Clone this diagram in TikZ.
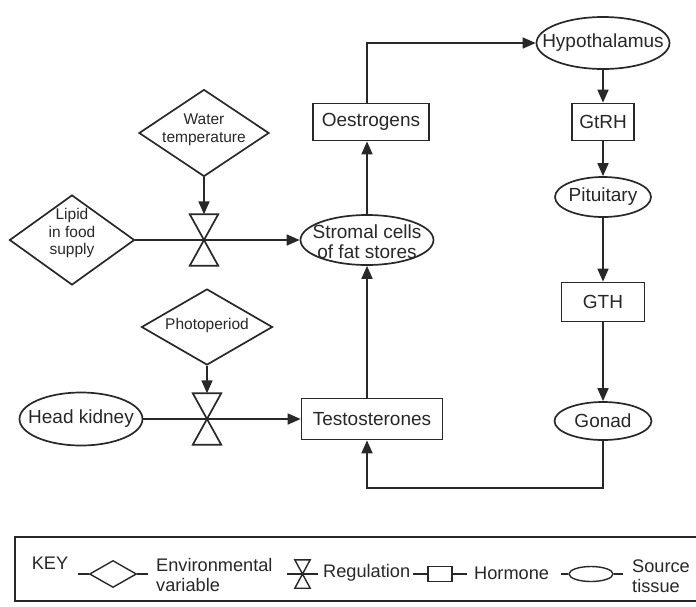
\documentclass[tikz,border=0pt]{standalone}
\usepackage{fontspec}
\setmainfont{Liberation Sans}
\usetikzlibrary{shapes.geometric,arrows.meta}
\definecolor{ink}{RGB}{40,40,40}
\begin{document}
\begin{tikzpicture}[x=1pt,y=-1pt,
  line/.style={draw=ink,line width=1.7pt},
  arr/.style={line,-{Triangle[length=13pt,width=11pt]}},
  envvar/.style={draw=ink,line width=1.7pt,diamond,inner sep=0pt},
  hormone/.style={draw=ink,line width=1.7pt,rectangle,inner sep=2pt,text=ink,font=\fontsize{19}{21}\selectfont},
  source/.style={draw=ink,line width=1.7pt,ellipse,inner sep=0pt},
  valvebox/.style={rectangle,inner sep=0pt,minimum width=28pt,minimum height=51pt},
  valveline/.style={draw=ink,line width=1.7pt,line join=miter},
  mtxt/.style={text=ink,inner sep=0pt,align=center,font=\fontsize{19}{20}\selectfont},
  dtxt/.style={text=ink,inner sep=0pt,align=center,font=\fontsize{15.5}{17.5}\selectfont},
  ktxt/.style={text=ink,inner sep=0pt,align=left,font=\fontsize{18.2}{20}\selectfont},
]
\useasboundingbox[fill=white] (0,0) rectangle (696,606);

% ---------- environmental variables ----------
\node[envvar,minimum width=130pt,minimum height=87pt] (water) at (204,133) {};
\node[dtxt] (waterT) at (204,130) {Water\\temperature};
\node[envvar,minimum width=125pt,minimum height=90pt] (lipid) at (72,240) {};
\node[dtxt] (lipidT) at (72,233) {Lipid\\in food\\supply};
\node[envvar,minimum width=131pt,minimum height=76pt] (photo) at (207,327) {};
\node[dtxt] (photoT) at (207,325) {Photoperiod};

% ---------- regulation valves ----------
\node[valvebox] (v1) at (204,240) {};
\draw[valveline] (v1.north west) -- (v1.north east) -- (v1.south west) -- (v1.south east) -- cycle;
\node[valvebox] (v2) at (207,419) {};
\draw[valveline] (v2.north west) -- (v2.north east) -- (v2.south west) -- (v2.south east) -- cycle;

% ---------- tissues and hormones ----------
\node[source,minimum width=123pt,minimum height=53pt] (headk) at (81,419) {};
\node[mtxt] (headkT) at (headk) {Head kidney};
\node[source,minimum width=133pt,minimum height=50pt] (stromal) at (367,240) {};
\node[mtxt] (stromalT) at (367,242) {Stromal cells\\of fat stores};
\node[hormone,minimum width=116pt,minimum height=37pt] (oes) at (371,122) {Oestrogens};
\node[hormone,minimum width=141pt,minimum height=41pt] (test) at (372,419) {Testosterones};

\node[source,minimum width=133pt,minimum height=52pt] (hyp) at (603,43) {};
\node[mtxt] (hypT) at (hyp) {Hypothalamus};
\node[hormone,minimum width=62pt,minimum height=37pt] (gtrh) at (603,122) {GtRH};
\node[source,minimum width=96pt,minimum height=40pt] (pit) at (603,197) {};
\node[mtxt] (pitT) at (pit) {Pituitary};
\node[hormone,minimum width=83pt,minimum height=39pt] (gth) at (603,302) {GTH};
\node[source,minimum width=97pt,minimum height=38pt] (gonad) at (603,421) {};
\node[mtxt] (gonadT) at (gonad) {Gonad};

% ---------- connectors ----------
\draw[arr] (water.south) -- (v1.north);
\draw[arr] (photo.south) -- (v2.north);
\draw[arr] (lipid.east) -- (stromal.west);
\draw[arr] (headk.east) -- (test.west);
\draw[arr] (test.north -| stromal) -- (stromal.south);
\draw[arr] (stromal.north) -- (oes.south -| stromal);
\draw[arr] (oes.north -| stromal) |- (hyp.west);
\draw[arr] (hyp) -- (gtrh);
\draw[arr] (gtrh) -- (pit);
\draw[arr] (pit) -- (gth);
\draw[arr] (gth) -- (gonad);
\coordinate (fb) at (603,488);
\draw[arr] (gonad.south) -- (fb) -| (test.south -| stromal);

% ---------- key ----------
\coordinate (kTR) at (698,537);
\coordinate (kTL) at (15,537);
\coordinate (kBL) at (15,601);
\coordinate (kBR) at (698,601);
\draw[line] (kTR) -- (kTL) -- (kBL) -- (kBR);
\node[ktxt] (keyT) at (50,563) {KEY};

\node[envvar,line width=1.4pt,minimum width=47pt,minimum height=27pt] (kd) at (113,574) {};
\coordinate (kdL) at (78,574);
\coordinate (kdR) at (148,574);
\draw[line,line width=1.4pt] (kdL) -- (kd.west);
\draw[line,line width=1.4pt] (kd.east) -- (kdR);
\node[ktxt,anchor=west] (kdT) at (156,575) {Environmental\\variable};

\node[valvebox,minimum width=15pt,minimum height=28pt] (kv) at (302.5,574) {};
\draw[valveline,line width=1.4pt] (kv.north west) -- (kv.north east) -- (kv.south west) -- (kv.south east) -- cycle;
\coordinate (kvL) at (287,574);
\coordinate (kvR) at (318,574);
\draw[line,line width=1.4pt] (kvL) -- (kvR);
\node[ktxt,anchor=west] (kvT) at (323,573) {Regulation};

\node[draw=ink,line width=1.4pt,rectangle,inner sep=0pt,minimum width=24pt,minimum height=15pt] (kr) at (440,574) {};
\coordinate (krL) at (413,574);
\coordinate (krR) at (467,574);
\draw[line,line width=1.4pt] (krL) -- (kr.west);
\draw[line,line width=1.4pt] (kr.east) -- (krR);
\node[ktxt,anchor=west] (krT) at (474,573) {Hormone};

\node[source,line width=1.4pt,minimum width=44pt,minimum height=15pt] (ke) at (591,574) {};
\coordinate (keL) at (561,574);
\coordinate (keR) at (623,574);
\draw[line,line width=1.4pt] (keL) -- (ke.west);
\draw[line,line width=1.4pt] (ke.east) -- (keR);
\node[ktxt,anchor=west] (keT) at (632,576) {Source\\tissue};
\end{tikzpicture}
\end{document}
